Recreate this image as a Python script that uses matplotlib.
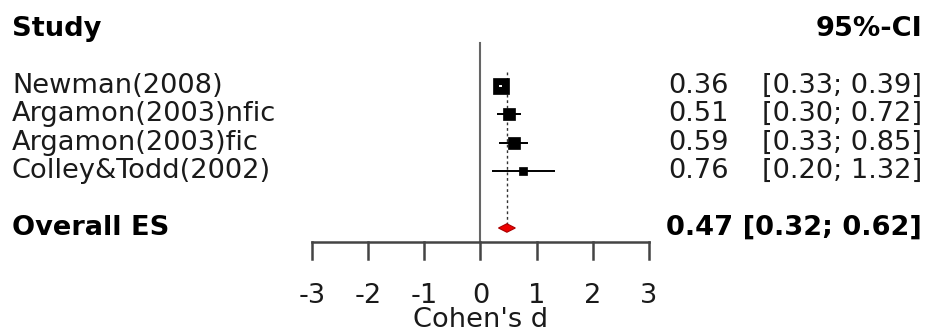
import matplotlib
matplotlib.use("Agg")
import matplotlib.pyplot as plt
import numpy as np
from matplotlib.transforms import blended_transform_factory

studies = ["Newman(2008)", "Argamon(2003)nfic", "Argamon(2003)fic", "Colley&Todd(2002)"]
effects = [0.36, 0.51, 0.59, 0.76]
lower = [0.33, 0.30, 0.33, 0.20]
upper = [0.39, 0.72, 0.85, 1.32]
weights = [44, 25, 25, 10]
overall = 0.47
overall_lo = 0.32
overall_hi = 0.62
xticks = [-3, -2, -1, 0, 1, 2, 3]
xlabel = "Cohen's d"

W, H = 929, 333
fig = plt.figure(figsize=(W / 100, H / 100), dpi=100)
plt.rcParams['font.family'] = ['DejaVu Sans']
FS = 19.6

# plot region: x from -3..3 spans pixel 312..649; rows with 28.4 px spacing
x0p, x1p = 312, 649
ax = fig.add_axes([x0p / W, 0, (x1p - x0p) / W, 1])
ax.set_xlim(-3, 3)
row0, step = 29.2, 28.4
ax.set_ylim((H - row0) / step, -row0 / step)
ax.axis('off')

trans = blended_transform_factory(fig.transFigure, ax.transData)
txtc = '#1a1a1a'

# headers
ax.text(12 / W, 0, "Study", transform=trans, fontsize=FS, fontweight='bold', ha='left', va='center', color='black')
ax.text(922 / W, 0, "95%-CI", transform=trans, fontsize=FS, fontweight='bold', ha='right', va='center', color='black')

rows = np.arange(len(studies)) + 2
for r, s, e, lo, hi, w in zip(rows, studies, effects, lower, upper, weights):
    ax.text(12 / W, r, s, transform=trans, fontsize=FS, ha='left', va='center', color=txtc)
    ax.text(729 / W, r, f"{e:.2f}", transform=trans, fontsize=FS, ha='right', va='center', color=txtc)
    ax.text(922 / W, r, f"[{lo:.2f}; {hi:.2f}]", transform=trans, fontsize=FS, ha='right', va='center', color=txtc)
    side = 16 * np.sqrt(w / weights[0])
    ax.plot([lo, hi], [r, r], color='black', lw=1.4, zorder=3, solid_capstyle='butt')
    ax.plot([e], [r], marker='s', ms=side * 0.72, color='black', mec='black', mew=0.5, zorder=4)
    if side > (hi - lo) * (x1p - x0p) / 6:
        ax.plot([lo, hi], [r, r], color='white', lw=1.4, zorder=5, solid_capstyle='butt')

r_over = len(studies) + 3
ax.text(12 / W, r_over, "Overall ES", transform=trans, fontsize=FS, fontweight='bold', ha='left', va='center', color='black')
ax.text(922 / W, r_over, f"{overall:.2f} [{overall_lo:.2f}; {overall_hi:.2f}]", transform=trans,
        fontsize=FS, fontweight='bold', ha='right', va='center', color='black')
dh = 0.15
ax.fill([overall_lo, overall, overall_hi, overall], [r_over, r_over - dh, r_over, r_over + dh],
        facecolor='#ee0000', edgecolor='#aa0000', lw=0.8, zorder=4)

# reference lines
axis_row = r_over + 0.5
ax.plot([0, 0], [(43 - row0) / step, axis_row], color='#666666', lw=1.5, zorder=1)
ax.plot([overall, overall], [1.5, r_over], color='#333333', lw=1.0, ls=(0, (2, 2)), zorder=2)

# x axis
ax.plot([xticks[0], xticks[-1]], [axis_row, axis_row], color='#444444', lw=1.8, clip_on=False)
tick_len = 17 / step
for t in xticks:
    ax.plot([t, t], [axis_row, axis_row + tick_len], color='#444444', lw=1.8, clip_on=False)
    ax.text(t, (296 - row0) / step, str(t), fontsize=FS, ha='center', va='center', color=txtc)
ax.text(0, (320 - row0) / step, xlabel, fontsize=FS, ha='center', va='center', color=txtc)

fig.savefig("out.png", dpi=100)
